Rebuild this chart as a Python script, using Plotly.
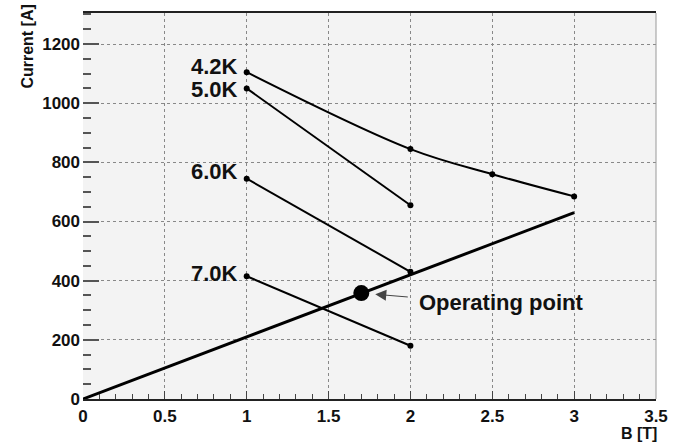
import plotly.graph_objects as go

# ---- data ----
b_42 = [1, 2, 2.5, 3]
i_42 = [1105, 845, 760, 685]
b_50 = [1, 2]
i_50 = [1050, 655]
b_60 = [1, 2]
i_60 = [745, 430]
b_70 = [1, 2]
i_70 = [415, 180]
load_b = [0, 3]
load_i = [0, 630]
op_b = [1.7]
op_i = [358]
series_names = ["4.2K", "5.0K", "6.0K", "7.0K"]

FONT = "Liberation Sans, Arial, Helvetica, sans-serif"

fig = go.Figure()

fig.add_trace(go.Scatter(x=load_b, y=load_i, mode="lines",
                         line=dict(color="black", width=3), showlegend=False))
for k, (bx, iy) in enumerate([(b_42, i_42), (b_50, i_50), (b_60, i_60), (b_70, i_70)]):
    fig.add_trace(go.Scatter(x=bx, y=iy, mode="lines+markers",
                             line=dict(color="black", width=2,
                                       shape="spline" if k == 0 else "linear"),
                             marker=dict(color="black", size=6),
                             showlegend=False))
fig.add_trace(go.Scatter(x=op_b, y=op_i, mode="markers",
                         marker=dict(color="black", size=16), showlegend=False))

# series labels
label_shifts = [6, -1, 7, 3]
for name, bx, iy, ys in zip(series_names, [b_42, b_50, b_60, b_70],
                            [i_42, i_50, i_60, i_70], label_shifts):
    fig.add_annotation(x=bx[0], y=iy[0], text=name, showarrow=False,
                       xanchor="right", yanchor="middle", xshift=-7, yshift=ys,
                       font=dict(family=FONT, size=22, color="#111", weight="bold"))

# operating point label + arrow
fig.add_annotation(x=op_b[0], y=op_i[0], text="", showarrow=True,
                   ax=48, ay=4, axref="pixel", ayref="pixel",
                   arrowhead=2, arrowsize=2.2, arrowwidth=1, arrowcolor="#444",
                   standoff=14)
fig.add_annotation(x=op_b[0], y=op_i[0], text="Operating point", showarrow=False,
                   xanchor="left", yanchor="middle", xshift=56, yshift=-9,
                   font=dict(family=FONT, size=22, color="#111", weight="bold"))

# axis titles
fig.add_annotation(xref="paper", yref="paper", x=-0.097, y=1.028, text="Current [A]",
                   textangle=-90, showarrow=False, xanchor="center", yanchor="top",
                   font=dict(family=FONT, size=16, color="#111", weight="bold"))
fig.add_annotation(xref="paper", yref="paper", x=1.005, y=-0.063, text="B [T]",
                   showarrow=False, xanchor="right", yanchor="top",
                   font=dict(family=FONT, size=16, color="#111", weight="bold"))

# right frame edge
fig.add_shape(type="line", xref="paper", yref="paper", x0=1, x1=1, y0=0, y1=1,
              line=dict(color="#999", width=1))

fig.update_xaxes(range=[0, 3.5], dtick=0.5, tick0=0,
                 showgrid=True, gridcolor="#888", griddash="dot", gridwidth=1,
                 zeroline=False, showline=True, linecolor="#222", linewidth=1.5,
                 mirror=True,
                 ticks="inside", ticklen=8, tickcolor="#444", tickwidth=1,
                 minor=dict(dtick=0.1, ticks="inside", ticklen=5, tickcolor="#444"),
                 tickfont=dict(family=FONT, size=17, color="#111", weight="bold"),
                 ticklabelstandoff=1)
fig.update_yaxes(range=[0, 1305], dtick=200, tick0=0,
                 showgrid=True, gridcolor="#888", griddash="dot", gridwidth=1,
                 zeroline=False, showline=False,
                 ticks="inside", ticklen=16, tickcolor="#555", tickwidth=1.5,
                 minor=dict(dtick=50, ticks="inside", ticklen=8, tickcolor="#555"),
                 tickfont=dict(family=FONT, size=17, color="#111", weight="bold"),
                 ticklabelstandoff=2)

fig.update_layout(width=679, height=444,
                  margin=dict(l=83, r=20, t=11, b=45),
                  paper_bgcolor="white", plot_bgcolor="#f3f3f3")

fig.write_html("out.html", config={"displayModeBar": False},
               post_script="document.body.style.margin='0';")
